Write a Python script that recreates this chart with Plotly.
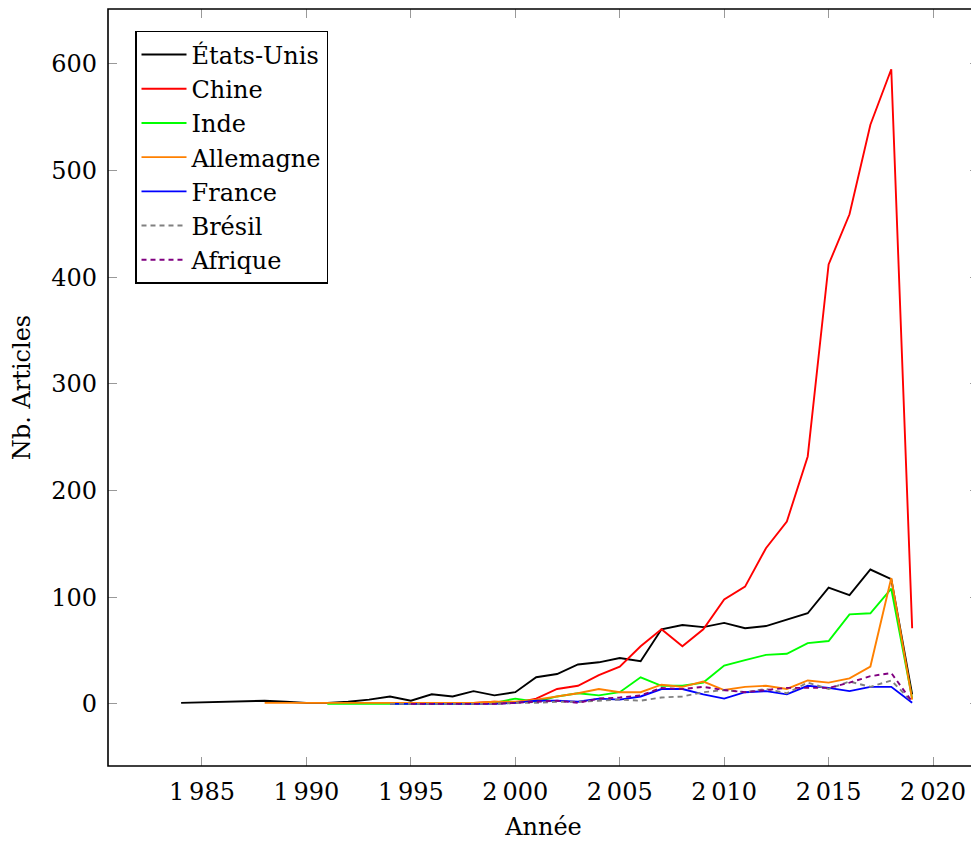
import plotly.graph_objects as go

# ---- data ----
years_us = [1984, 1988, 1989, 1990, 1991, 1992, 1993, 1994, 1995, 1996, 1997, 1998, 1999,
            2000, 2001, 2002, 2003, 2004, 2005, 2006, 2007, 2008, 2009, 2010, 2011, 2012,
            2013, 2014, 2015, 2016, 2017, 2018, 2019]
etats_unis = [1, 3, 2, 1, 1, 2, 4, 7, 3, 9, 7, 12, 8,
              11, 25, 28, 37, 39, 43, 40, 70, 74, 72, 76, 71, 73,
              79, 85, 109, 102, 126, 117, 9]

years_cn = list(range(1991, 2020))
chine = [1, 1, 1, 1, 1, 1, 1, 1, 2,
         1, 5, 14, 17, 27, 35, 54, 70, 54, 70, 98, 110, 146, 171, 232, 412, 459, 543, 595, 71]

years_in = list(range(1991, 2020))
inde = [0, 0, 0, 0, 0, 0, 0, 0, 1,
        5, 2, 7, 10, 8, 11, 25, 17, 17, 20, 36, 41, 46, 47, 57, 59, 84, 85, 108, 5]

years_de = list(range(1988, 2020))
allemagne = [1, 1, 1, 1, 1, 1, 1, 1, 1, 1, 1, 2,
             2, 4, 7, 10, 14, 11, 11, 18, 16, 21, 13, 16, 17, 14, 22, 20, 24, 35, 118, 4]

years_fr = list(range(1994, 2020))
france = [0, 0, 0, 0, 0, 0,
          1, 3, 3, 2, 5, 4, 7, 14, 14, 9, 5, 11, 12, 9, 17, 15, 12, 16, 16, 1]

years_br = list(range(1994, 2020))
bresil = [0, 0, 0, 0, 0, 0,
          1, 1, 2, 2, 3, 4, 3, 6, 7, 11, 13, 11, 14, 10, 20, 14, 21, 16, 22, 2]

years_af = list(range(1995, 2020))
afrique = [0, 0, 0, 0, 0,
           1, 2, 3, 1, 5, 6, 8, 15, 14, 16, 13, 11, 13, 15, 15, 15, 20, 26, 29, 2]

x_ticks = [1985, 1990, 1995, 2000, 2005, 2010, 2015, 2020]
x_tick_labels = ["1\u2009985", "1\u2009990", "1\u2009995", "2\u2009000",
                 "2\u2009005", "2\u2009010", "2\u2009015", "2\u2009020"]
y_ticks = [0, 100, 200, 300, 400, 500, 600]

series = [
    ("États-Unis", years_us, etats_unis, "#000000", "solid"),
    ("Chine", years_cn, chine, "#ff0000", "solid"),
    ("Inde", years_in, inde, "#00ff00", "solid"),
    ("Allemagne", years_de, allemagne, "#ff8000", "solid"),
    ("France", years_fr, france, "#0000ff", "solid"),
    ("Brésil", years_br, bresil, "#808080", "5px,4px"),
    ("Afrique", years_af, afrique, "#800080", "5px,4px"),
]

FONT = "DejaVu Serif"
FS = 24

fig = go.Figure()
for name, xs, ys, color, dash in series:
    fig.add_trace(go.Scatter(x=xs, y=ys, mode="lines", name=name,
                             line=dict(color=color, width=1.9, dash=dash)))

fig.update_layout(
    width=971, height=833,
    margin=dict(l=100, r=0, t=1, b=75),
    plot_bgcolor="white", paper_bgcolor="white",
    font=dict(family=FONT, size=FS, color="black"),
    showlegend=True,
    legend=dict(x=0.031, y=0.971, xanchor="left", yanchor="top",
                bgcolor="white", bordercolor="black", borderwidth=1.5,
                font=dict(family=FONT, size=FS), itemwidth=45,
                entrywidth=200, entrywidthmode="pixels",
                tracegroupgap=0),
    shapes=[dict(type="rect", xref="paper", yref="paper", x0=0, x1=1.02, y0=0, y1=1,
                 line=dict(color="black", width=1.6), layer="above")],
)

fig.update_xaxes(range=[1980.5, 2022.2], tickvals=x_ticks, ticktext=x_tick_labels,
                 ticks="inside", ticklen=9, tickcolor="#999999", tickwidth=1,
                 mirror="ticks", showline=False, showgrid=False, zeroline=False,
                 ticklabelstandoff=9,
                 title=dict(text="Année", font=dict(family=FONT, size=FS), standoff=13))
fig.update_yaxes(range=[-58.2, 651.5], tickvals=y_ticks,
                 ticks="inside", ticklen=9, tickcolor="#999999", tickwidth=1,
                 mirror="ticks", showline=False, showgrid=False, zeroline=False,
                 ticklabelstandoff=10,
                 title=dict(text="Nb. Articles", font=dict(family=FONT, size=FS), standoff=16))

fig.write_html("out.html")
